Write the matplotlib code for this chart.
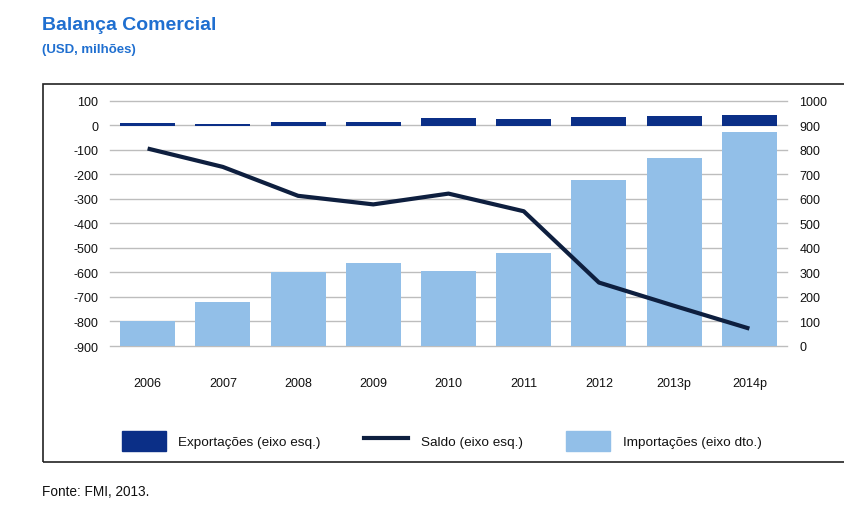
import matplotlib.pyplot as plt
import matplotlib.patches as mpatches
from matplotlib.lines import Line2D
import numpy as np

years = ['2006', '2007', '2008', '2009', '2010', '2011', '2012', '2013p', '2014p']
exportacoes = [11, 5, 14, 14, 31, 27, 35, 39, 44]
importacoes = [103, 178, 302, 337, 307, 378, 676, 769, 872]
saldo = [-94, -169, -287, -322, -278, -350, -641, -736, -829]

c_exp = '#0b2f87'
c_imp = '#92bfe8'
c_saldo = '#0e1f3f'
c_title = '#1f6fd0'

plt.rcParams['font.family'] = ['Liberation Sans', 'DejaVu Sans']
plt.rcParams['axes.unicode_minus'] = False

W, H = 844, 510
fig = plt.figure(figsize=(W / 100, H / 100), dpi=100)

# frame around the chart
fig.patches.append(mpatches.Rectangle((43 / W, 1 - 463 / H), 805 / W, 378 / H,
                                      transform=fig.transFigure, fill=False,
                                      edgecolor='#222222', lw=1.2))

ax = fig.add_axes([110 / W, 1 - 347 / H, 677 / W, 245 / H])
ax2 = ax.twinx()
ax.set_zorder(ax2.get_zorder() + 1)
ax.patch.set_visible(False)

x = np.arange(len(years))
ax2.bar(x, importacoes, width=0.73, color=c_imp, zorder=2)
ax.bar(x, exportacoes, width=0.73, color=c_exp, zorder=2)
ax.plot(x, saldo, color=c_saldo, lw=3, zorder=3, solid_capstyle='butt')

ax.set_ylim(-900, 100)
ax2.set_ylim(0, 1000)
ax.set_xlim(-0.5, len(years) - 0.5)
ax.set_yticks(range(-900, 101, 100))
ax2.set_yticks(range(0, 1001, 100))
ax2.grid(axis='y', color='#bdbdbd', lw=1, zorder=0, clip_on=False)
ax2.set_axisbelow(True)

ax.set_xticks(x)
ax.set_xticklabels(years)
for a in (ax, ax2):
    for s in a.spines.values():
        s.set_visible(False)
    a.tick_params(length=0, labelsize=9, colors='#111111')
ax.tick_params(axis='x', pad=22)
ax.tick_params(axis='y', pad=8.5)
ax2.tick_params(axis='y', pad=9)

fig.text(42 / W, 1 - 26 / H, 'Balança Comercial', color=c_title, fontsize=14,
         fontweight='bold', va='center')
fig.text(42 / W, 1 - 50 / H, '(USD, milhões)', color=c_title, fontsize=9.5,
         fontweight='bold', va='center')
fig.text(42 / W, 1 - 492 / H, 'Fonte: FMI, 2013.', color='#111111', fontsize=9.8,
         va='center')

handles = [mpatches.Patch(color=c_exp), Line2D([], [], color=c_saldo, lw=3),
           mpatches.Patch(color=c_imp)]
labels = ['Exportações (eixo esq.)', 'Saldo (eixo esq.)', 'Importações (eixo dto.)']
fig.legend(handles, labels, loc='center', bbox_to_anchor=(441.5 / W, 1 - 442 / H),
           ncol=3, frameon=False, fontsize=9.7, labelcolor='#111111',
           handlelength=3.26, handleheight=1.85, columnspacing=3.2,
           handletextpad=0.95, borderpad=0, borderaxespad=0)

fig.savefig('out.png', dpi=100)
